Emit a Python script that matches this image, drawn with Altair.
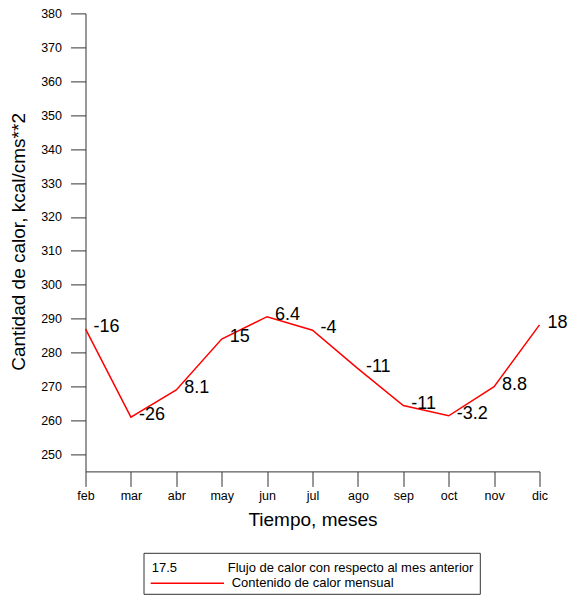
import altair as alt
import pandas as pd

months = ["feb", "mar", "abr", "may", "jun", "jul", "ago", "sep", "oct", "nov", "dic"]
heat_content = [287.0, 261.0, 269.0, 284.0, 290.6, 286.6, 275.3, 264.4, 261.4, 270.0, 288.2]
heat_flux = ["-16", "-26", "8.1", "15", "6.4", "-4", "-11", "-11", "-3.2", "8.8", "18"]
y_ticks = list(range(250, 390, 10))
legend_sample = ["17.5"]
legend_labels = ["Flujo de calor con respecto al mes anterior", "Contenido de calor mensual"]

FONT = "Liberation Sans"
OX, OY = 85.5, 13.4          # plot origin on the page
W, H = 454, 458

df = pd.DataFrame({"mes": months, "calor": heat_content, "flujo": heat_flux})

x_enc = alt.X(
    "mes:N", sort=months,
    scale=alt.Scale(type="point", padding=0),
    axis=alt.Axis(
        title="Tiempo, meses", labelAngle=0, tickSize=15, labelFontSize=12.5,
        labelFont=FONT, titleFont=FONT, titleFontSize=19, titleFontWeight="normal",
        domainColor="#333", tickColor="#333", labelColor="#000", titleColor="#000",
        labelPadding=3, titleX=312.5 - OX, titleY=48, titleBaseline="middle",
        titleAlign="center", grid=False, labelOverlap=False,
    ),
)
y_enc = alt.Y(
    "calor:Q",
    scale=alt.Scale(domain=[245, 380], nice=False, zero=False),
    axis=alt.Axis(
        title="Cantidad de calor, kcal/cms**2", values=y_ticks, tickSize=15,
        labelFontSize=12.5, labelFont=FONT, titleFont=FONT, titleFontSize=19,
        titleFontWeight="normal", domainColor="#333", tickColor="#333",
        labelColor="#000", titleColor="#000", labelPadding=9, grid=False,
        titleX=18 - OX, titleY=H / 2 - 1, titleAngle=-90, titleBaseline="middle",
        titleAlign="center", labelOverlap=False, labelSeparation=0,
    ),
)

base = alt.Chart(df)
line = base.mark_line(color="#ff0000", strokeWidth=1.5).encode(x=x_enc, y=y_enc)
labels = base.mark_text(
    align="left", baseline="middle", dx=8, dy=-2, fontSize=18, font=FONT, color="#000"
).encode(x=x_enc, y=y_enc, text="flujo:N")

one = alt.Data(values=[{"a": 1}])
box = alt.Chart(one).mark_rect(fill="white", stroke="#333", strokeWidth=1).encode(
    x=alt.value(144 - OX), x2=alt.value(480.3 - OX),
    y=alt.value(553.3 - OY), y2=alt.value(594.3 - OY),
)
leg_sample = alt.Chart(pd.DataFrame({"t": legend_sample})).mark_text(
    align="left", baseline="middle", fontSize=13, font=FONT, color="#000"
).encode(x=alt.value(151.7 - OX), y=alt.value(568 - OY), text="t:N")
leg_t1 = alt.Chart(pd.DataFrame({"t": [legend_labels[0]]})).mark_text(
    align="left", baseline="middle", fontSize=13, font=FONT, color="#000"
).encode(x=alt.value(227.7 - OX), y=alt.value(568 - OY), text="t:N")
leg_t2 = alt.Chart(pd.DataFrame({"t": [legend_labels[1]]})).mark_text(
    align="left", baseline="middle", fontSize=13, font=FONT, color="#000"
).encode(x=alt.value(231.7 - OX), y=alt.value(583 - OY), text="t:N")
leg_line = alt.Chart(one).mark_rule(color="#ff0000", strokeWidth=1.5).encode(
    x=alt.value(150.7 - OX), x2=alt.value(224 - OX), y=alt.value(583.3 - OY)
)

chart = alt.layer(line, labels, box, leg_sample, leg_t1, leg_t2, leg_line).properties(
    width=W, height=H,
    autosize=alt.AutoSizeParams(type="none"),
    padding={"left": OX - 8, "top": OY - 8, "right": 560 - (OX - 8) - W, "bottom": 125.6},
    background="white",
).configure_view(stroke=None, strokeWidth=0).configure_axis(labelOverlap=False)

chart.save("out.html", embed_options={"renderer": "svg", "actions": False})
